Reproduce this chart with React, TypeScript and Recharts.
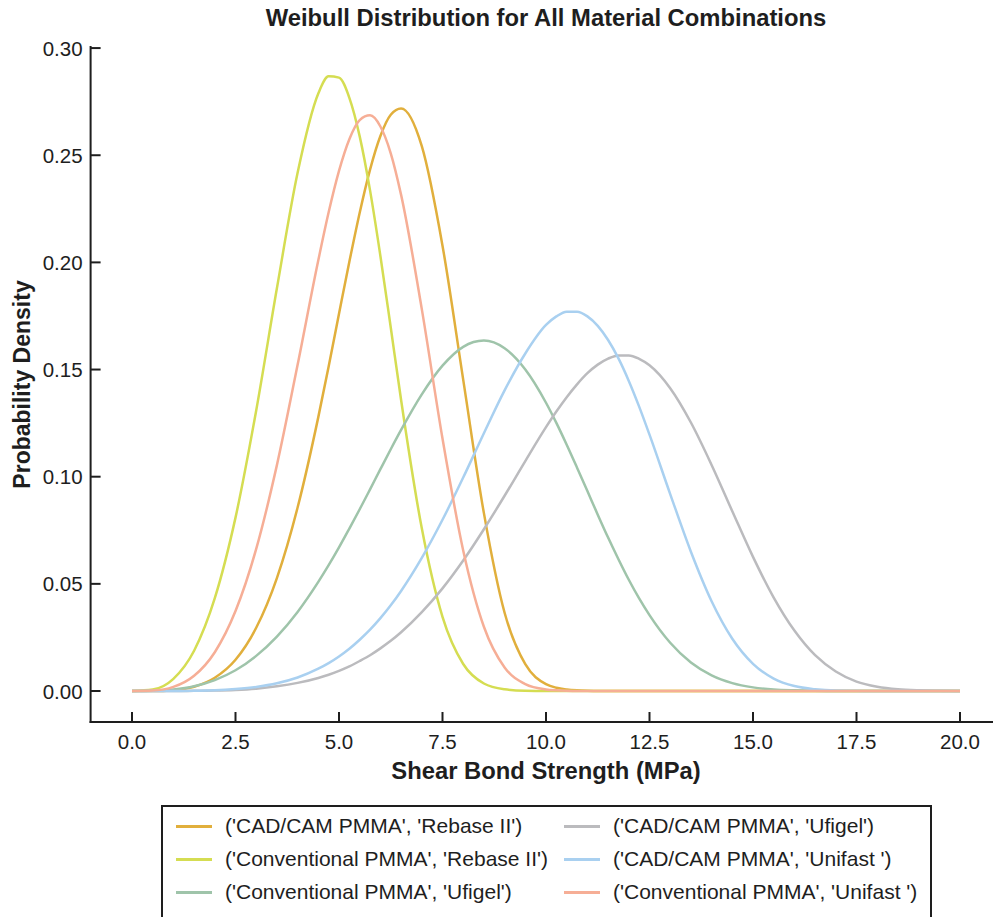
import React from "react";
import { LineChart, Line, XAxis, YAxis, Label } from "recharts";

// shear bond strength grid (MPa), a little denser around the peaks
const X_VALUES = [
  0, 0.5, 1, 1.5, 2, 2.5, 3, 3.5, 4, 4.5, 4.75, 5, 5.25, 5.5, 5.75, 6, 6.25, 6.5,
  7, 7.5, 8, 8.5, 9, 9.5, 10, 10.25, 10.5, 10.75, 11, 11.25, 11.5, 11.75, 12,
  12.25, 12.5, 13, 13.5, 14, 14.5, 15, 15.5, 16, 16.5, 17, 17.5, 18, 18.5, 19,
  19.5, 20,
];

// probability density, one value per grid point
const CADCAM_REBASE = [
  0, 0, 0.0004, 0.002, 0.0062, 0.0146, 0.0295, 0.0527, 0.0856, 0.1278, 0.1514,
  0.176, 0.2003, 0.2232, 0.2433, 0.259, 0.2689, 0.2718, 0.2542, 0.2078, 0.1453,
  0.083, 0.0365, 0.0125, 0.0032, 0.0015, 0.0007, 0.0003, 0.0001, 0, 0, 0, 0, 0,
  0, 0, 0, 0, 0, 0, 0, 0, 0, 0, 0, 0, 0, 0, 0, 0,
];
const CONV_REBASE = [
  0, 0.0007, 0.0057, 0.0188, 0.0433, 0.0809, 0.1309, 0.1879, 0.2418, 0.2788,
  0.2868, 0.2862, 0.2768, 0.2588, 0.2336, 0.203, 0.1696, 0.1358, 0.0759, 0.0346,
  0.0126, 0.0035, 0.0008, 0.0001, 0, 0, 0, 0, 0, 0, 0, 0, 0, 0, 0, 0, 0, 0, 0,
  0, 0, 0, 0, 0, 0, 0, 0, 0, 0, 0,
];
const CONV_UFIGEL = [
  0, 0.0001, 0.0007, 0.0022, 0.0051, 0.0097, 0.0164, 0.0254, 0.0369, 0.0509,
  0.0587, 0.067, 0.0758, 0.0848, 0.0941, 0.1035, 0.1128, 0.1218, 0.1384, 0.1518,
  0.1606, 0.1635, 0.1599, 0.15, 0.1345, 0.1251, 0.1149, 0.1042, 0.0933, 0.0823,
  0.0716, 0.0615, 0.0519, 0.0432, 0.0354, 0.0225, 0.0133, 0.0073, 0.0037, 0.0017,
  0.0007, 0.0003, 0.0001, 0, 0, 0, 0, 0, 0, 0,
];
const CADCAM_UFIGEL = [
  0, 0, 0, 0.0001, 0.0002, 0.0005, 0.0011, 0.0022, 0.0038, 0.0061, 0.0076,
  0.0094, 0.0115, 0.014, 0.0167, 0.0199, 0.0234, 0.0274, 0.0368, 0.0479, 0.0609,
  0.0755, 0.0911, 0.1073, 0.1231, 0.1304, 0.1371, 0.1431, 0.1483, 0.1523, 0.1551,
  0.1566, 0.1566, 0.155, 0.152, 0.1413, 0.1253, 0.1055, 0.0839, 0.0626, 0.0436,
  0.0282, 0.0167, 0.0091, 0.0044, 0.002, 0.0008, 0.0003, 0.0001, 0,
];
const CADCAM_UNIFAST = [
  0, 0, 0, 0.0001, 0.0003, 0.0009, 0.0019, 0.0036, 0.0063, 0.0104, 0.013,
  0.0161, 0.0197, 0.0239, 0.0286, 0.034, 0.04, 0.0467, 0.0621, 0.0799, 0.0996,
  0.1203, 0.1403, 0.1575, 0.1708, 0.1748, 0.177, 0.177, 0.1748, 0.1704, 0.1638,
  0.1552, 0.1447, 0.1327, 0.1196, 0.0919, 0.065, 0.0419, 0.0244, 0.0127, 0.0058,
  0.0023, 0.0008, 0.0002, 0.0001, 0, 0, 0, 0, 0,
];
const CONV_UNIFAST = [
  0, 0.0002, 0.0019, 0.0071, 0.0181, 0.0373, 0.0663, 0.1054, 0.1522, 0.201,
  0.2234, 0.2427, 0.2575, 0.2664, 0.2686, 0.2634, 0.2509, 0.2315, 0.1782, 0.1178,
  0.0656, 0.03, 0.011, 0.0032, 0.0007, 0.0003, 0.0001, 0, 0, 0, 0, 0, 0, 0, 0,
  0, 0, 0, 0, 0, 0, 0, 0, 0, 0, 0, 0, 0, 0, 0,
];

const X_TICKS = [0, 2.5, 5, 7.5, 10, 12.5, 15, 17.5, 20];
const Y_TICKS = [0, 0.05, 0.1, 0.15, 0.2, 0.25, 0.3];

const SERIES = [
  { key: "cadcamRebase", name: "('CAD/CAM PMMA', 'Rebase II')", color: "#E1AF3C", values: CADCAM_REBASE },
  { key: "convRebase", name: "('Conventional PMMA', 'Rebase II')", color: "#D5DD52", values: CONV_REBASE },
  { key: "convUfigel", name: "('Conventional PMMA', 'Ufigel')", color: "#9FC4AA", values: CONV_UFIGEL },
  { key: "cadcamUfigel", name: "('CAD/CAM PMMA', 'Ufigel')", color: "#BBBBBE", values: CADCAM_UFIGEL },
  { key: "cadcamUnifast", name: "('CAD/CAM PMMA', 'Unifast ')", color: "#A9D0F0", values: CADCAM_UNIFAST },
  { key: "convUnifast", name: "('Conventional PMMA', 'Unifast ')", color: "#F6AE96", values: CONV_UNIFAST },
];

const FONT = "'Liberation Sans', Arial, Helvetica, sans-serif";
const INK = "#1e1e1e";
const TICK_GAP = 8;
const TICK_FONT = 20.5;
const TITLE_FONT = 23.8;

const data = X_VALUES.map((x, i) => {
  const row: Record<string, number> = { x };
  SERIES.forEach((s) => {
    row[s.key] = s.values[i];
  });
  return row;
});

// ticks point inwards, like the matplotlib style in the reference
const YTick = (props: any) => {
  const { x, y, payload } = props;
  const axisX = x + TICK_GAP;
  return (
    <g>
      <line x1={axisX} x2={axisX + 10} y1={y} y2={y} stroke={INK} strokeWidth={2} />
      <text x={x} y={y} textAnchor="end" dominantBaseline="central" fontSize={TICK_FONT} fill={INK} fontFamily={FONT}>
        {payload.value.toFixed(2)}
      </text>
    </g>
  );
};

const XTick = (props: any) => {
  const { x, y, payload } = props;
  const axisY = y - TICK_GAP;
  return (
    <g>
      <line x1={x} x2={x} y1={axisY} y2={axisY - 10} stroke={INK} strokeWidth={2} />
      <text x={x} y={y + 4} dy="0.71em" textAnchor="middle" fontSize={TICK_FONT} fill={INK} fontFamily={FONT}>
        {payload.value.toFixed(1)}
      </text>
    </g>
  );
};

const xTitle = (props: any) => {
  const vb = props.viewBox;
  return (
    <text x={vb.x + vb.width / 2} y={vb.y + 57} textAnchor="middle" fontSize={TITLE_FONT} fontWeight="bold" fill={INK} fontFamily={FONT}>
      Shear Bond Strength (MPa)
    </text>
  );
};

const yTitle = (props: any) => {
  const vb = props.viewBox;
  const cx = vb.x + 22;
  const cy = vb.y + vb.height / 2;
  return (
    <text
      x={cx}
      y={cy}
      transform={`rotate(-90 ${cx} ${cy})`}
      textAnchor="middle"
      dominantBaseline="central"
      fontSize={23}
      fontWeight="bold"
      fill={INK}
      fontFamily={FONT}
    >
      Probability Density
    </text>
  );
};

const LegendBox = () => {
  const rows = 3;
  return (
    <div
      style={{
        position: "absolute",
        left: 161,
        top: 805,
        width: 771,
        height: 130,
        border: `2px solid ${INK}`,
        boxSizing: "border-box",
        background: "#fff",
        fontFamily: FONT,
        fontSize: 21,
        color: INK,
      }}
    >
      {SERIES.map((s, i) => {
        const col = Math.floor(i / rows);
        const row = i % rows;
        return (
          <div
            key={s.key}
            style={{
              position: "absolute",
              left: col === 0 ? 13 : 401,
              top: 6 + row * 33,
              height: 26,
              display: "flex",
              alignItems: "center",
              whiteSpace: "pre",
            }}
          >
            <span style={{ display: "inline-block", width: 36, height: 3, background: s.color, marginRight: 13 }} />
            <span>{s.name}</span>
          </div>
        );
      })}
    </div>
  );
};

export default function App() {
  return (
    <div
      style={{
        position: "absolute",
        left: 0,
        top: 0,
        width: 993,
        height: 917,
        overflow: "hidden",
        background: "#fff",
      }}
    >
      <div
        style={{
          position: "absolute",
          left: 90.6,
          width: 910.8,
          top: 6,
          textAlign: "center",
          fontFamily: FONT,
          fontWeight: "bold",
          fontSize: TITLE_FONT,
          lineHeight: "24px",
          color: INK,
        }}
      >
        Weibull Distribution for All Material Combinations
      </div>
      <div style={{ position: "absolute", left: 0, top: 0 }}>
        <LineChart width={1010} height={917} data={data} margin={{ top: 47, right: 8.6, bottom: 135, left: 0 }}>
          <XAxis
            dataKey="x"
            type="number"
            domain={[-1, 21]}
            allowDataOverflow
            ticks={X_TICKS}
            height={60}
            tickSize={0}
            tickMargin={TICK_GAP}
            tick={<XTick />}
            axisLine={{ stroke: INK, strokeWidth: 2, strokeLinecap: "square" }}
            tickLine={false}
          >
            <Label content={xTitle} />
          </XAxis>
          <YAxis
            type="number"
            domain={[-0.01446, 0.3005]}
            allowDataOverflow
            ticks={Y_TICKS}
            width={90.6}
            tickSize={0}
            tickMargin={TICK_GAP}
            tick={<YTick />}
            axisLine={{ stroke: INK, strokeWidth: 2, strokeLinecap: "square" }}
            tickLine={false}
          >
            <Label content={yTitle} />
          </YAxis>
          {SERIES.map((s) => (
            <Line
              key={s.key}
              dataKey={s.key}
              name={s.name}
              type="monotone"
              stroke={s.color}
              strokeWidth={2.5}
              dot={false}
              activeDot={false}
              isAnimationActive={false}
            />
          ))}
        </LineChart>
      </div>
      <LegendBox />
    </div>
  );
}
